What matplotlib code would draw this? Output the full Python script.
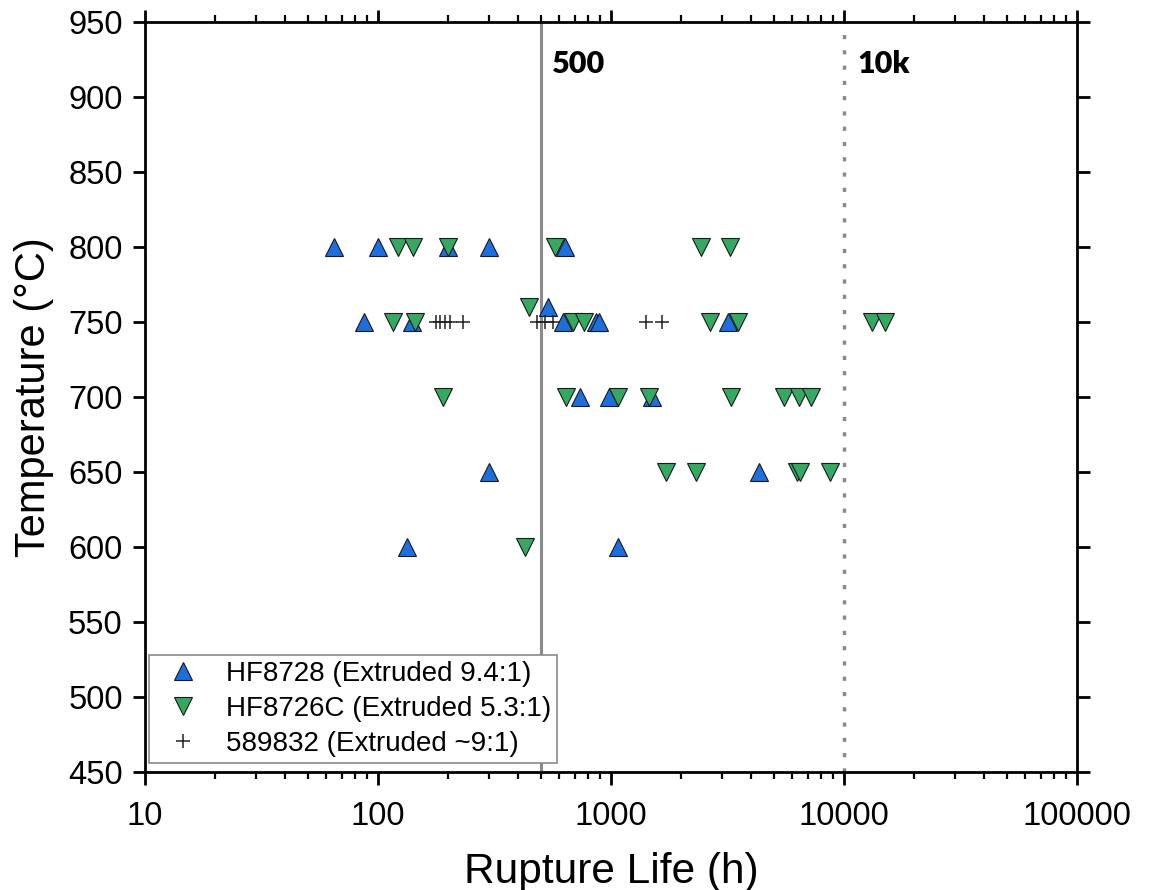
import matplotlib
matplotlib.use("Agg")
import matplotlib.pyplot as plt
from matplotlib.ticker import LogLocator, NullFormatter, FixedLocator

plt.rcParams['font.family'] = ['Liberation Sans', 'DejaVu Sans']

# HF8728 (Extruded 9.4:1)
hf8728_life = [65, 100, 200, 300, 635,
               87, 140, 622, 860, 890, 3180,
               537,
               736, 980, 1500,
               300, 4320,
               133, 1075]
hf8728_temp = [800, 800, 800, 800, 800,
               750, 750, 750, 750, 750, 750,
               760,
               700, 700, 700,
               650, 650,
               600, 600]

# HF8726C (Extruded 5.3:1)
hf8726c_life = [122, 141, 200, 575, 2430, 3240,
                445,
                116, 144, 687, 766, 2660, 3510, 13200, 15000,
                191, 639, 1075, 1460, 3270, 5550, 6410, 7200,
                1720, 2310, 6260, 6470, 8710,
                428]
hf8726c_temp = [800, 800, 800, 800, 800, 800,
                760,
                750, 750, 750, 750, 750, 750, 750, 750,
                700, 700, 700, 700, 700, 700, 700, 700,
                650, 650, 650, 650, 650,
                600]

# 589832 (Extruded ~9:1)
h589832_life = [177, 185, 194, 204, 232, 481, 521, 564, 1420, 1660]
h589832_temp = [750] * len(h589832_life)

ref_lives = [500, 10000]
ref_labels = ["500", "10k"]
y_ticks = list(range(450, 951, 50))
x_ticks = [10, 100, 1000, 10000, 100000]

fig = plt.figure(figsize=(11.55, 8.9), dpi=100)
ax = fig.add_axes([0.1255, 0.1326, 0.807, 0.8427])

# reference life lines
ax.axvline(ref_lives[0], color='#8a8a8a', lw=2.2, zorder=1)
ax.axvline(ref_lives[1], color='#8a8a8a', lw=2.5, ls=(0, (1.2, 3.2)), zorder=1)
ax.text(ref_lives[0] * 1.12, 922, ref_labels[0], fontsize=22, fontweight='heavy',
        family=['Lato', 'DejaVu Sans'], va='center', ha='left')
ax.text(ref_lives[1] * 1.14, 922, ref_labels[1], fontsize=22, fontweight='heavy',
        family=['Lato', 'DejaVu Sans'], va='center', ha='left')

ax.plot(hf8728_life, hf8728_temp, ls='none', marker='^', ms=13.5,
        mfc='#1c6fdc', mec='#1a1a1a', mew=0.8, zorder=3,
        label='HF8728 (Extruded 9.4:1)')
ax.plot(hf8726c_life, hf8726c_temp, ls='none', marker='v', ms=13.5,
        mfc='#35a862', mec='#1a1a1a', mew=0.8, zorder=3,
        label='HF8726C (Extruded 5.3:1)')
ax.plot(h589832_life, h589832_temp, ls='none', marker='+', ms=10,
        mec='#222222', mew=1.1, zorder=4,
        label='589832 (Extruded ~9:1)')

ax.set_xscale('log')
ax.set_xlim(10, 100000)
ax.set_ylim(450, 950)
ax.xaxis.set_major_locator(FixedLocator(x_ticks))
ax.set_xticklabels([str(v) for v in x_ticks])
ax.xaxis.set_minor_locator(LogLocator(base=10, subs=range(2, 10)))
ax.xaxis.set_minor_formatter(NullFormatter())
ax.set_yticks(y_ticks)

for s in ax.spines.values():
    s.set_linewidth(2.0)
ax.tick_params(which='major', direction='out', length=9, width=2.0,
               labelsize=23.5, top=True, right=True)
ax.tick_params(axis='x', which='major', pad=12)
ax.tick_params(axis='y', which='major', pad=7)
ax.tick_params(which='minor', direction='out', length=5, width=1.6,
               top=True, right=True)

ax.set_xlabel('Rupture Life (h)', fontsize=30.5, labelpad=14)
ax.set_ylabel('Temperature (°C)', fontsize=30, labelpad=10)

leg = ax.legend(loc='lower left', bbox_to_anchor=(0.004, 0.012), fontsize=20,
                frameon=True, fancybox=False, edgecolor='#8a8a8a',
                framealpha=1, borderpad=0.22, labelspacing=0.32,
                handletextpad=0.55, handlelength=2.0, borderaxespad=0)
leg.get_frame().set_linewidth(1.2)

fig.savefig('out.png', dpi=100)
